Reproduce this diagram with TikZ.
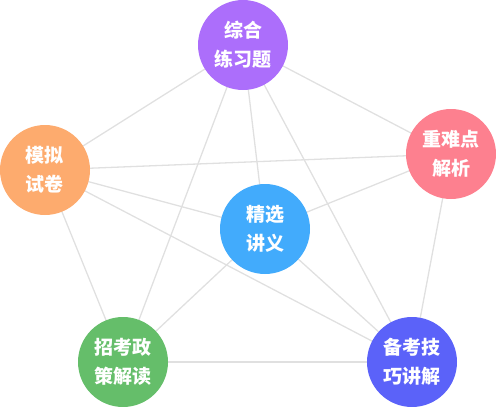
\documentclass[tikz,border=0pt]{standalone}
\usepackage{fontspec}
\usepackage{xcolor}
\usepackage{tikz}
\usetikzlibrary{backgrounds}
\newfontfamily\cjk{Noto Sans CJK SC}

\definecolor{topic1}{HTML}{AC6EFB}
\definecolor{topic2}{HTML}{FD808F}
\definecolor{topic3}{HTML}{FDAB6E}
\definecolor{topic4}{HTML}{42ABFC}
\definecolor{topic5}{HTML}{65BE6A}
\definecolor{topic6}{HTML}{5B62F9}

\tikzset{
    bubble/.style={circle, minimum size=90pt, inner sep=0pt, align=center,
        text=white, font=\cjk\bfseries\fontsize{19}{29}\selectfont},
    link/.style={draw=black!12, line width=1.3pt}
}

\begin{document}
\begin{tikzpicture}[x=1pt, y=-1pt]
        \useasboundingbox (0,0) rectangle (496,407);

        % Topics
        \node[bubble, fill=topic1] (zonghe) at (243,45) {综合\\练习题};
        \node[bubble, fill=topic2] (zhongnan) at (451,154) {重难点\\解析};
        \node[bubble, fill=topic3] (moni) at (45,170) {模拟\\试卷};
        \node[bubble, fill=topic4] (jingxuan) at (265,229) {精选\\讲义};
        \node[bubble, fill=topic5] (zhaokao) at (123,362) {招考政\\策解读};
        \node[bubble, fill=topic6] (beikao) at (412,362) {备考技\\巧讲解};

        % Links behind the bubbles
        \begin{scope}[on background layer]
            \foreach \a/\b in {zonghe/moni, zonghe/zhaokao, zonghe/jingxuan,
                zonghe/beikao, zonghe/zhongnan, moni/zhongnan, moni/jingxuan,
                moni/beikao, moni/zhaokao, zhongnan/jingxuan, zhongnan/beikao,
                jingxuan/zhaokao, jingxuan/beikao, zhaokao/beikao}
                \draw[link] (\a.center) -- (\b.center);
        \end{scope}
    \end{tikzpicture}
\end{document}
